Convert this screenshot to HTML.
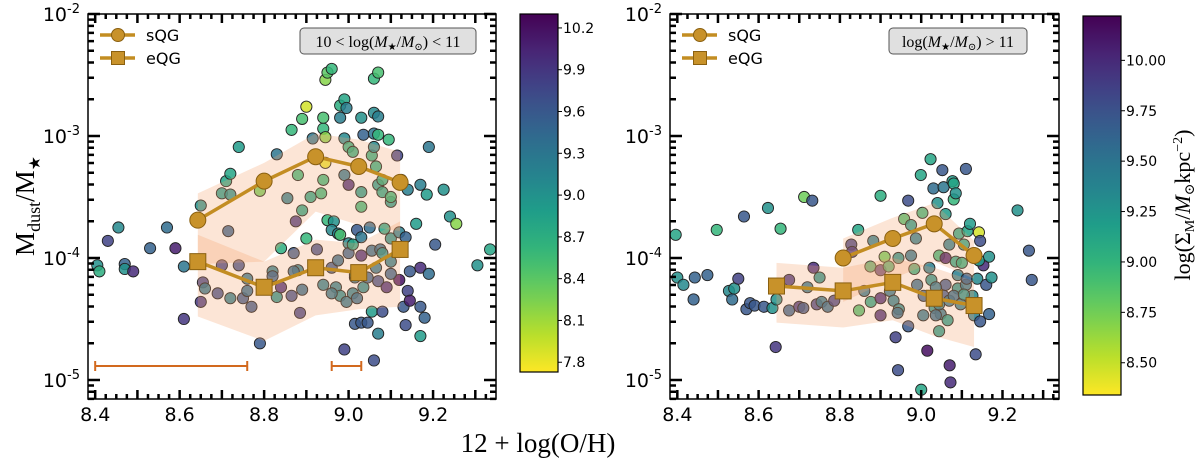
<!DOCTYPE html>
<html><head><meta charset="utf-8">
<style>
body{margin:0;background:#fff;width:1200px;height:462px;overflow:hidden}
svg{display:block}
.tk{font-family:"DejaVu Sans","Liberation Sans",sans-serif;font-size:19px;fill:#000}
.cb{font-family:"DejaVu Sans","Liberation Sans",sans-serif;font-size:14px;fill:#000}
.sf{font-family:"Liberation Serif","DejaVu Serif",serif;fill:#000}
</style></head><body>
<svg id="fig" width="1200" height="462" viewBox="0 0 1200 462"></svg>
<script>
// ---- data (x = 12+log(O/H), y = log10(Mdust/M*), c = log Sigma_M) ----
const leftX=[8.405,8.41,8.43,8.455,8.47,8.47,8.49,8.53,8.57,8.59,8.61,8.61,8.65,8.655,8.66,8.65,8.69,8.70,8.71,8.72,8.70,8.72,8.715,8.74,8.72,8.74,8.75,8.76,8.76,8.77,8.79,8.79,8.82,8.83,8.84,8.83,8.855,8.84,8.865,8.865,8.875,8.87,8.88,8.88,8.89,8.885,8.89,8.90,8.90,8.89,8.91,8.915,8.925,8.935,8.94,8.94,8.94,8.94,8.945,8.945,8.945,8.95,8.96,8.95,8.965,8.96,8.975,8.98,8.98,8.98,8.99,8.995,8.99,8.99,9.00,9.00,9.00,9.00,9.01,9.01,9.015,9.015,9.02,9.03,9.03,9.03,9.03,9.03,9.03,9.035,9.045,9.05,9.055,9.055,9.06,9.06,9.055,9.06,9.06,9.07,9.065,9.07,9.07,9.07,9.07,9.07,9.08,9.08,9.08,9.085,9.09,9.095,9.10,9.10,9.10,9.115,9.12,9.12,9.125,9.13,9.135,9.14,9.14,9.145,9.145,9.135,9.16,9.17,9.17,9.17,9.17,9.18,9.185,9.19,9.19,9.205,9.225,9.24,9.255,9.305,9.335,9.06,8.99,9.015,8.97,8.98,8.995,9.01,9.02,9.035,9.045,9.065,9.075,9.08,8.96,8.96,8.975,9.10,9.10,8.82,8.87];
const leftY=[-4.06,-4.11,-3.86,-3.75,-4.05,-4.09,-4.11,-3.92,-3.75,-3.92,-4.07,-4.50,-3.57,-4.20,-4.25,-4.36,-4.29,-4.06,-3.37,-3.31,-3.47,-3.48,-3.78,-3.09,-4.33,-4.06,-4.33,-4.27,-4.17,-4.40,-3.45,-4.70,-4.11,-4.32,-4.24,-3.15,-3.51,-3.92,-4.31,-2.95,-3.70,-3.96,-3.32,-4.10,-4.26,-4.45,-3.61,-3.84,-2.76,-2.86,-3.50,-3.02,-3.93,-3.47,-4.22,-2.94,-2.85,-3.36,-3.22,-3.01,-2.54,-2.48,-2.45,-3.69,-3.70,-3.77,-3.80,-2.85,-3.81,-2.75,-2.70,-2.77,-3.02,-3.32,-3.40,-3.09,-3.88,-3.96,-3.13,-3.89,-4.16,-4.54,-3.77,-3.83,-2.85,-3.46,-3.58,-4.53,-3.98,-2.99,-4.53,-3.75,-3.16,-3.94,-2.81,-2.98,-4.44,-3.09,-2.53,-2.48,-3.25,-3.40,-2.84,-4.62,-4.19,-2.99,-3.36,-3.46,-4.44,-3.76,-4.24,-3.03,-3.54,-3.84,-3.50,-3.16,-4.18,-3.79,-3.36,-4.40,-3.83,-3.44,-4.27,-4.11,-4.35,-4.55,-3.72,-3.40,-4.08,-4.40,-4.64,-4.49,-3.48,-4.13,-3.09,-3.89,-3.44,-3.66,-3.72,-4.06,-3.93,-4.84,-4.75,-4.14,-4.24,-4.31,-4.36,-4.29,-4.33,-4.24,-4.16,-4.08,-3.93,-3.96,-4.08,-4.29,-4.02,-4.13,-4.03,-4.15,-4.11];
const leftC=[9.0,8.7,9.8,9.1,9.5,9.0,10.0,9.5,9.4,10.1,9.3,9.9,9.0,9.8,9.3,9.9,9.7,9.8,8.8,8.8,8.9,9.0,9.5,8.9,9.2,9.7,9.6,9.4,9.3,9.6,8.3,9.6,9.2,9.0,10.0,9.3,9.2,8.7,9.7,8.6,9.9,9.6,8.6,9.2,9.4,9.8,8.8,8.6,7.9,8.5,8.8,9.3,9.7,8.6,9.2,8.6,8.5,8.6,7.8,8.2,8.2,8.4,8.6,8.6,9.0,9.1,9.1,9.2,8.5,8.7,8.8,9.2,9.1,9.3,10.0,8.7,9.1,9.5,8.7,8.8,9.3,9.6,9.6,9.3,9.0,8.9,8.6,9.6,10.0,9.5,9.6,9.4,8.7,9.4,9.1,9.3,8.9,9.1,8.6,8.5,8.7,8.9,9.2,9.2,9.7,8.6,8.7,8.8,9.7,8.8,10.0,8.6,8.9,9.0,8.6,9.8,10.2,9.2,8.6,9.6,9.5,9.2,9.8,9.6,10.1,9.7,8.9,9.2,10.0,9.6,8.9,9.5,8.9,9.4,9.3,9.6,9.0,9.0,8.2,9.0,8.8,9.7,9.8,9.0,9.2,9.1,9.3,9.2,9.4,9.1,9.5,9.3,9.4,9.0,9.6,9.3,9.4,9.5,9.2,9.5,9.4];
const rightX=[8.396,8.40,8.415,8.443,8.44,8.474,8.497,8.527,8.535,8.54,8.55,8.564,8.57,8.579,8.59,8.613,8.634,8.644,8.623,8.642,8.654,8.675,8.675,8.70,8.71,8.712,8.72,8.732,8.735,8.743,8.75,8.755,8.77,8.786,8.828,8.83,8.845,8.847,8.86,8.875,8.876,8.882,8.90,8.90,8.90,8.90,8.91,8.92,8.923,8.932,8.937,8.943,8.945,8.942,8.944,8.958,8.968,8.968,8.975,8.975,8.983,8.987,8.99,8.999,9.00,9.003,9.005,9.006,9.015,9.02,9.023,9.025,9.03,9.033,9.04,9.044,9.044,9.048,9.052,9.055,9.055,9.06,9.06,9.06,9.065,9.069,9.07,9.072,9.077,9.08,9.08,9.085,9.085,9.09,9.09,9.093,9.10,9.105,9.11,9.11,9.112,9.114,9.12,9.126,9.13,9.134,9.138,9.142,9.145,9.145,9.153,9.142,9.16,9.167,9.167,9.173,9.237,9.265,9.272,9.036,9.044,9.069,9.08,9.097,9.105,9.036];
const rightY=[-3.81,-4.16,-4.22,-4.16,-4.34,-4.14,-3.77,-4.27,-4.34,-4.25,-4.17,-3.66,-4.42,-4.37,-4.39,-4.40,-4.41,-4.34,-3.59,-4.73,-3.76,-4.18,-4.43,-4.40,-4.41,-3.50,-4.24,-3.53,-4.08,-4.38,-4.16,-4.36,-4.40,-4.35,-3.89,-3.95,-3.77,-4.43,-4.27,-4.07,-4.36,-3.86,-3.49,-4.10,-4.33,-4.47,-3.99,-4.07,-4.27,-4.35,-4.65,-4.92,-4.42,-4.45,-4.00,-3.68,-3.53,-4.56,-3.73,-3.98,-4.09,-3.84,-4.22,-3.32,-5.08,-3.63,-4.47,-4.31,-4.76,-4.08,-3.19,-4.18,-3.43,-4.41,-3.55,-4.60,-3.98,-4.46,-3.28,-3.42,-4.31,-3.64,-4.22,-4.00,-4.51,-3.89,-4.88,-5.02,-3.37,-3.39,-3.52,-3.47,-4.03,-4.14,-4.25,-3.80,-4.04,-3.89,-3.27,-4.22,-4.17,-3.78,-3.72,-4.31,-4.47,-4.79,-4.17,-3.79,-3.86,-4.52,-4.06,-4.02,-4.22,-3.99,-4.46,-4.16,-3.61,-3.94,-4.18,-4.24,-4.38,-4.35,-4.31,-4.38,-4.30,-4.47];
const rightC=[9.12,9.27,9.34,9.64,9.64,9.64,8.98,9.34,9.56,9.27,9.86,9.71,9.71,9.71,9.71,9.71,9.27,9.27,9.27,9.93,8.98,9.93,9.64,9.93,9.71,8.76,9.49,9.71,10.0,9.86,9.27,9.49,9.56,9.86,9.86,9.93,9.12,8.90,9.49,8.98,9.12,9.42,9.05,9.93,10.0,10.0,8.76,8.98,9.49,9.42,9.86,9.78,9.34,9.56,9.27,8.90,9.78,9.71,9.20,9.49,9.05,9.42,9.56,9.12,9.12,8.98,9.49,9.64,10.15,9.42,9.12,9.27,9.56,9.27,9.27,9.20,8.98,9.49,9.71,9.49,9.71,9.20,9.71,10.07,9.20,9.42,10.07,10.0,9.20,9.12,8.98,9.27,9.12,9.42,9.27,9.12,9.05,9.12,9.71,9.49,9.64,9.12,9.20,9.34,9.42,9.78,9.34,8.46,9.78,9.71,10.0,9.20,9.71,9.27,9.64,9.27,9.27,9.71,9.71,9.49,9.42,9.49,9.56,9.42,9.27,9.56];
// median tracks and 16-84 bands
const leftSqgX=[8.643,8.80,8.922,9.024,9.122];
const leftSqgY=[-3.69,-3.37,-3.17,-3.25,-3.38];
const leftSqgHi=[-3.47,-3.22,-2.98,-3.03,-3.13];
const leftSqgLo=[-4.05,-4.03,-3.62,-3.73,-3.78];
const leftEqgX=[8.643,8.80,8.922,9.024,9.122];
const leftEqgY=[-4.03,-4.24,-4.08,-4.12,-3.93];
const leftEqgHi=[-3.81,-4.03,-3.85,-3.88,-3.70];
const leftEqgLo=[-4.48,-4.68,-4.47,-4.42,-4.40];
const rightSqgX=[8.808,8.93,9.032,9.13];
const rightSqgY=[-4.00,-3.84,-3.72,-3.98];
const rightSqgHi=[-3.84,-3.67,-3.55,-3.86];
const rightSqgLo=[-4.36,-4.17,-4.03,-4.17];
const rightEqgX=[8.644,8.808,8.93,9.032,9.13];
const rightEqgY=[-4.23,-4.27,-4.20,-4.33,-4.39];
const rightEqgHi=[-4.04,-4.08,-4.00,-4.08,-4.19];
const rightEqgLo=[-4.53,-4.57,-4.51,-4.64,-4.73];
const errX0=[8.40,8.96];
const errX1=[8.76,9.03];
const errY=[-4.885,-4.885];
const xTicks=[8.4,8.6,8.8,9.0,9.2];
const yDecades=[-2,-3,-4,-5];
const cbTicksL=[10.2,9.9,9.6,9.3,9.0,8.7,8.4,8.1,7.8];
const cbTicksR=[10.00,9.75,9.50,9.25,9.00,8.75,8.50];

const NS="http://www.w3.org/2000/svg";
const svg=document.getElementById('fig');
function mk(tag,attrs,parent){const e=document.createElementNS(NS,tag);for(const k in attrs)e.setAttribute(k,attrs[k]);(parent||svg).appendChild(e);return e;}
const VIR=[[68,1,84],[72,40,120],[62,74,137],[49,104,142],[38,130,142],[31,158,137],[53,183,121],[109,205,89],[180,222,44],[253,231,37]];
function viridis(t){t=Math.max(0,Math.min(1,t));const f=t*(VIR.length-1);const i=Math.min(VIR.length-2,Math.floor(f));const u=f-i;const a=VIR[i],b=VIR[i+1];return `rgb(${Math.round(a[0]+(b[0]-a[0])*u)},${Math.round(a[1]+(b[1]-a[1])*u)},${Math.round(a[2]+(b[2]-a[2])*u)})`;}
function cmap(t){return viridis(1-t);}

function panel(cfg){
  const {x0,x1,y0,y1,xmin,xmax,ymin,ymax,cmin,cmax,name}=cfg;
  const sx=v=>x0+(v-xmin)/(xmax-xmin)*(x1-x0);
  const sy=v=>y1-(v-ymin)/(ymax-ymin)*(y1-y0);
  const g=mk('g',{});
  
  
  const cid='clip-'+name;
  const cp=mk('clipPath',{id:cid},g);mk('rect',{x:x0,y:y0,width:x1-x0,height:y1-y0},cp);
  const pg=mk('g',{'clip-path':`url(#${cid})`},g);
  cfg.px.forEach((xv,i)=>{
    const c=mk('circle',{cx:sx(xv),cy:sy(cfg.py[i]),r:5.6,fill:cmap((cfg.pc[i]-cmin)/(cmax-cmin)),stroke:'#222','stroke-width':0.9,'fill-opacity':0.85},pg);
    
    
  });
  function band(X,H,L,nm){
    let d='M'+X.map((v,i)=>sx(v)+','+sy(H[i])).join('L')+'L'+X.map((v,i)=>sx(v)+','+sy(L[i])).reverse().join('L')+'Z';
    const p=mk('path',{d,fill:'#f6a06a','fill-opacity':0.28,stroke:'none'},pg);
    
    
  }
  band(cfg.sX,cfg.sHi,cfg.sLo,'sqg-band');
  band(cfg.eX,cfg.eHi,cfg.eLo,'eqg-band');
  function track(X,Y,marker,nm){
    const l=mk('polyline',{points:X.map((v,i)=>sx(v)+','+sy(Y[i])).join(' '),fill:'none',stroke:'#c38d22','stroke-width':3.5},pg);
    
    
    X.forEach((v,i)=>{
      let m;
      if(marker==='o')m=mk('circle',{cx:sx(v),cy:sy(Y[i]),r:8,fill:'#c8922a',stroke:'#8a6010','stroke-width':1},pg);
      else m=mk('rect',{x:sx(v)-8,y:sy(Y[i])-8,width:16,height:16,fill:'#c8922a',stroke:'#8a6010','stroke-width':1},pg);
      
      
    });
  }
  track(cfg.sX,cfg.sY,'o','sqg-median');
  track(cfg.eX,cfg.eY,'s','eqg-median');
  if(cfg.err){
    errX0.forEach((v,i)=>{
      const e=mk('path',{d:`M${sx(v)},${sy(errY[i])}H${sx(errX1[i])}M${sx(v)},${sy(errY[i])-5}v10M${sx(errX1[i])},${sy(errY[i])-5}v10`,stroke:'#d2691e','stroke-width':2,fill:'none'},g);
      
      
    });
  }
  const fr=mk('rect',{x:x0,y:y0,width:x1-x0,height:y1-y0,fill:'none',stroke:'#000','stroke-width':1.5},g);
  
  
  let d='';
  for(let k=Math.ceil(xmin*40);k<=Math.floor(xmax*40);k++){
    const v=k/40;const X=sx(v);const major=(k%4===0);const len=major?9:5;
    d+=`M${X},${y1}v${-len}M${X},${y0}v${len}`;
  }
  for(let e=-6;e<=-2;e++){for(let m=1;m<=9;m++){const lv=e+Math.log10(m);if(lv<ymin||lv>ymax)continue;const Y=sy(lv);const len=m===1?12:6;d+=`M${x0},${Y}h${len}M${x1},${Y}h${-len}`;}}
  const tk=mk('path',{d,stroke:'#000','stroke-width':2.5,fill:'none'},g);
  
  
  xTicks.forEach(v=>{const t=mk('text',{x:sx(v),y:y1+22,'text-anchor':'middle',class:'tk'},g);t.textContent=v.toFixed(1);
    
    });
  yDecades.forEach(v=>{const t=mk('text',{x:x0-8,y:sy(v)+7,'text-anchor':'end',class:'tk'},g);
    t.innerHTML='10<tspan dy="-8" font-size="13">'+v+'</tspan>';
    
    });
  const lg=mk('g',{},g);
  
  
  [['sQG','o',35],['eQG','s',58]].forEach(([lab,mkr,yy])=>{
    mk('line',{x1:x0+12,x2:x0+47,y1:yy,y2:yy,stroke:'#c38d22','stroke-width':3.5},lg);
    if(mkr==='o')mk('circle',{cx:x0+30,cy:yy,r:6.5,fill:'#c8922a',stroke:'#8a6010'},lg);
    else mk('rect',{x:x0+23.5,y:yy-6.5,width:13,height:13,fill:'#c8922a',stroke:'#8a6010'},lg);
    const t=mk('text',{x:x0+58,y:yy+6,class:'tk'},lg);t.style.fontSize='16px';t.textContent=lab;
    
    
  });
  const ab=mk('g',{},g);
  
  
  mk('rect',{x:cfg.ax,y:28,width:cfg.aw,height:26,rx:4,fill:'#e0e0e0',stroke:'#555','stroke-width':1},ab);
  const at=mk('text',{x:cfg.ax+cfg.aw/2,y:47,'text-anchor':'middle',class:'sf','font-size':'16'},ab);
  at.innerHTML=cfg.atext;
  return {sx,sy};
}
panel({name:'left',x0:88,x1:496,y0:14,y1:399,xmin:8.383,xmax:9.349,ymin:-5.156,ymax:-2,cmin:7.73,cmax:10.3,
  px:leftX,py:leftY,pc:leftC,sX:leftSqgX,sY:leftSqgY,sHi:leftSqgHi,sLo:leftSqgLo,eX:leftEqgX,eY:leftEqgY,eHi:leftEqgHi,eLo:leftEqgLo,err:true,
  ax:300,aw:176,atext:'10 &lt; log(<tspan font-style="italic">M</tspan><tspan font-size="10" dy="3">★</tspan><tspan dy="-3">/</tspan><tspan font-style="italic">M</tspan><tspan font-size="10" dy="3">⊙</tspan><tspan dy="-3">) &lt; 11</tspan>'});
panel({name:'right',x0:670,x1:1059,y0:14,y1:399,xmin:8.382,xmax:9.339,ymin:-5.156,ymax:-2,cmin:8.34,cmax:10.22,
  px:rightX,py:rightY,pc:rightC,sX:rightSqgX,sY:rightSqgY,sHi:rightSqgHi,sLo:rightSqgLo,eX:rightEqgX,eY:rightEqgY,eHi:rightEqgHi,eLo:rightEqgLo,err:false,
  ax:889,aw:138,atext:'log(<tspan font-style="italic">M</tspan><tspan font-size="10" dy="3">★</tspan><tspan dy="-3">/</tspan><tspan font-style="italic">M</tspan><tspan font-size="10" dy="3">⊙</tspan><tspan dy="-3">) &gt; 11</tspan>'});

function colorbar(name,x,y0,y1,cmin,cmax,ticks,dec){
  const g=mk('g',{});
  
  
  const gid='grad-'+name;
  const defs=mk('defs',{},g);const lg=mk('linearGradient',{id:gid,x1:0,y1:1,x2:0,y2:0},defs);
  for(let i=0;i<=20;i++)mk('stop',{offset:(i/20),'stop-color':cmap(i/20)},lg);
  mk('rect',{x,y:y0,width:38,height:y1-y0,fill:`url(#${gid})`,stroke:'#000','stroke-width':1.2},g);
  const sy=v=>y1-(v-cmin)/(cmax-cmin)*(y1-y0);
  ticks.forEach(v=>{const Y=sy(v);mk('line',{x1:x+38,x2:x+42,y1:Y,y2:Y,stroke:'#000','stroke-width':1},g);
    const t=mk('text',{x:x+43,y:Y+5,class:'cb'},g);t.textContent=v.toFixed(dec);
    
    });
}
colorbar('colorbar-left',520,14,372,7.73,10.3,cbTicksL,1);
colorbar('colorbar-right',1083,16,395,8.34,10.22,cbTicksR,2);

let t=mk('text',{x:0,y:0,'text-anchor':'middle',class:'sf','font-size':'27',transform:'translate(34,206) rotate(-90)'});
t.innerHTML='M<tspan font-size="18" dy="6">dust</tspan><tspan dy="-6">/M</tspan><tspan font-size="16" dy="6">★</tspan>';


t=mk('text',{x:538,y:452,'text-anchor':'middle',class:'sf','font-size':'27'});
t.textContent='12 + log(O/H)';


t=mk('text',{x:0,y:0,'text-anchor':'middle',class:'sf','font-size':'22',transform:'translate(1190,205) rotate(-90)'});
t.innerHTML='log(Σ<tspan font-size="14" dy="4">M</tspan><tspan dy="-4">/</tspan><tspan font-style="italic">M</tspan><tspan font-size="14" dy="4">⊙</tspan><tspan dy="-4">kpc</tspan><tspan font-size="14" dy="-8">−2</tspan><tspan dy="8">)</tspan>';


</script>
</body></html>
